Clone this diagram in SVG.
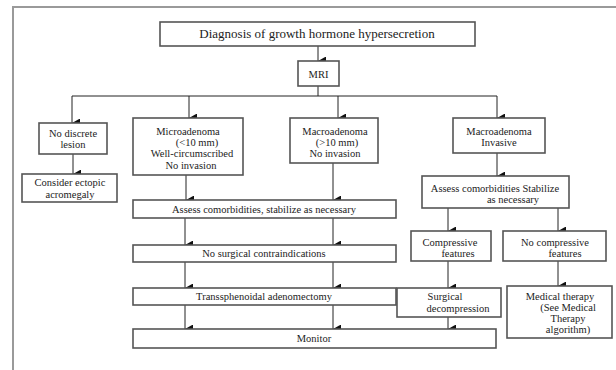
<svg xmlns="http://www.w3.org/2000/svg" width="616" height="370" viewBox="0 0 616 370">
<defs>
<marker id="ah" markerUnits="userSpaceOnUse" markerWidth="9" markerHeight="8" refX="4.5" refY="8" orient="auto-start-reverse" viewBox="0 0 9 8">
<path d="M0,0 L9,0 L4.5,8 Z" fill="#111"/>
</marker>
<style>
.box{fill:#fff;stroke:#555;stroke-width:1.6}
.t{font-family:"Liberation Serif","Times New Roman",serif;font-size:10.5px;fill:#222;text-anchor:middle}
.title{font-size:13px}
.ln{fill:none;stroke:#222;stroke-width:1}
.arr{fill:none;stroke:#222;stroke-width:1;marker-end:url(#ah)}
</style>
</defs>
<rect width="616" height="370" fill="#fff"/>
<path d="M13,370 V7 H616" fill="none" stroke="#9a9a9a" stroke-width="2"/>

<g id="connectors">
<line class="arr" x1="318" y1="46" x2="318" y2="61"/>
<line class="ln" x1="318" y1="86" x2="318" y2="96"/>
<line class="ln" x1="72" y1="96" x2="497" y2="96"/>
<line class="arr" x1="72" y1="96" x2="72" y2="123"/>
<line class="arr" x1="189" y1="96" x2="189" y2="118"/>
<line class="arr" x1="338" y1="96" x2="338" y2="118"/>
<line class="arr" x1="497" y1="96" x2="497" y2="118"/>
<line class="arr" x1="73" y1="154" x2="73" y2="174"/>
<line class="arr" x1="186" y1="175" x2="186" y2="200"/>
<line class="arr" x1="333" y1="163" x2="333" y2="200"/>
<line class="arr" x1="185" y1="218" x2="185" y2="245"/>
<line class="arr" x1="333" y1="218" x2="333" y2="245"/>
<line class="arr" x1="185" y1="262" x2="185" y2="288"/>
<line class="arr" x1="333" y1="262" x2="333" y2="288"/>
<line class="arr" x1="185" y1="305" x2="185" y2="329"/>
<line class="arr" x1="333" y1="305" x2="333" y2="329"/>
<line class="arr" x1="497" y1="153" x2="497" y2="176"/>
<line class="arr" x1="448" y1="208" x2="448" y2="231"/>
<line class="arr" x1="558" y1="208" x2="558" y2="231"/>
<line class="arr" x1="448" y1="261" x2="448" y2="288"/>
<line class="arr" x1="558" y1="261" x2="558" y2="286"/>
<line class="arr" x1="448" y1="317" x2="448" y2="329"/>
</g>

<g id="title">
<rect class="box" x="160" y="22" width="315" height="24"/>
<text class="t title" x="317" y="38">Diagnosis of growth hormone hypersecretion</text>
</g>
<g id="mri">
<rect class="box" x="298" y="61" width="41" height="25"/>
<text class="t" x="318.5" y="77.5">MRI</text>
</g>
<g id="no-lesion">
<rect class="box" x="39" y="123" width="68" height="31"/>
<text class="t" x="73" y="136.5">No discrete</text>
<text class="t" x="73" y="147.5">lesion</text>
</g>
<g id="ectopic">
<rect class="box" x="22" y="174" width="95" height="28"/>
<text class="t" x="70" y="185.5">Consider ectopic</text>
<text class="t" x="70" y="198">acromegaly</text>
</g>
<g id="microadenoma">
<rect class="box" x="133" y="118" width="110" height="57"/>
<text class="t" x="188" y="134.5">Microadenoma</text>
<text class="t" x="197" y="146">(&lt;10 mm)</text>
<text class="t" x="192" y="157">Well-circumscribed</text>
<text class="t" x="191" y="168.5">No invasion</text>
</g>
<g id="macroadenoma">
<rect class="box" x="290" y="118" width="88" height="45"/>
<text class="t" x="335" y="134.5">Macroadenoma</text>
<text class="t" x="337" y="146">(&gt;10 mm)</text>
<text class="t" x="335" y="157">No invasion</text>
</g>
<g id="macro-invasive">
<rect class="box" x="453" y="118" width="92" height="35"/>
<text class="t" x="499" y="134.5">Macroadenoma</text>
<text class="t" x="499" y="146">Invasive</text>
</g>
<g id="assess-right">
<rect class="box" x="422" y="176" width="147" height="32"/>
<text class="t" x="495" y="191.5">Assess comorbidities Stabilize</text>
<text class="t" x="513" y="202.5">as necessary</text>
</g>
<g id="assess-wide">
<rect class="box" x="133" y="200" width="263" height="18"/>
<text class="t" x="264" y="212.5">Assess comorbidities, stabilize as necessary</text>
</g>
<g id="no-contra">
<rect class="box" x="133" y="245" width="263" height="17"/>
<text class="t" x="264" y="257">No surgical contraindications</text>
</g>
<g id="compressive">
<rect class="box" x="411" y="231" width="80" height="30"/>
<text class="t" x="450" y="246">Compressive</text>
<text class="t" x="458" y="257">features</text>
</g>
<g id="no-compressive">
<rect class="box" x="503" y="231" width="103" height="30"/>
<text class="t" x="555" y="246">No compressive</text>
<text class="t" x="565" y="257">features</text>
</g>
<g id="transsphenoidal">
<rect class="box" x="133" y="288" width="263" height="17"/>
<text class="t" x="264" y="300">Transsphenoidal adenomectomy</text>
</g>
<g id="surgical-decompression">
<rect class="box" x="397" y="288" width="104" height="29"/>
<text class="t" x="445" y="299.5">Surgical</text>
<text class="t" x="458" y="312">decompression</text>
</g>
<g id="medical-therapy">
<rect class="box" x="507" y="286" width="105" height="52"/>
<text class="t" x="560" y="299.5">Medical therapy</text>
<text class="t" x="568" y="310.5">(See Medical</text>
<text class="t" x="568" y="322">Therapy</text>
<text class="t" x="568" y="333">algorithm)</text>
</g>
<g id="monitor">
<rect class="box" x="133" y="329" width="363" height="19"/>
<text class="t" x="314" y="342">Monitor</text>
</g>
</svg>
